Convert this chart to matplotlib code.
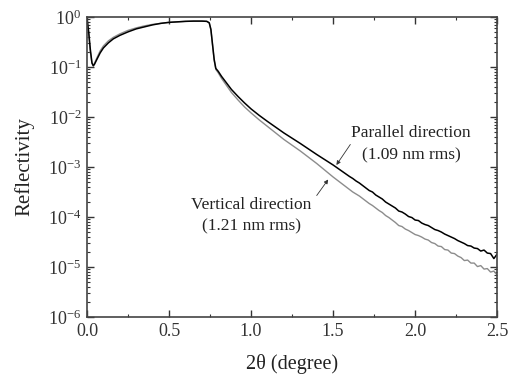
import numpy as np
import matplotlib
matplotlib.use("Agg")
import matplotlib.pyplot as plt
from matplotlib.ticker import LogLocator, MultipleLocator, NullFormatter

# 2theta (degree) and log10(reflectivity)
theta_par = [0.000, 0.010, 0.020, 0.030, 0.038, 0.045, 0.06, 0.08, 0.10, 0.13, 0.16, 0.20,
             0.25, 0.30, 0.35, 0.40, 0.45, 0.50, 0.55, 0.60, 0.65, 0.70, 0.73, 0.745, 0.755,
             0.765, 0.775, 0.785, 0.80, 0.82, 0.85, 0.88, 0.92, 0.96, 1.00, 1.05, 1.10, 1.20,
             1.30, 1.40, 1.50, 1.60,
             1.62, 1.64, 1.66, 1.68, 1.70, 1.72, 1.74, 1.76, 1.78, 1.80, 1.82, 1.84, 1.86,
             1.88, 1.90, 1.92, 1.94, 1.96, 1.98, 2.00, 2.02, 2.04, 2.06, 2.08, 2.10, 2.12,
             2.14, 2.16, 2.18, 2.20, 2.22, 2.24, 2.26, 2.28, 2.30, 2.32, 2.34, 2.36, 2.38,
             2.40, 2.42, 2.44, 2.46, 2.48, 2.50]
logR_par = [-0.04, -0.30, -0.65, -0.92, -0.98, -0.95, -0.85, -0.72, -0.62, -0.52, -0.44, -0.37,
            -0.30, -0.24, -0.20, -0.16, -0.13, -0.11, -0.10, -0.09, -0.085, -0.085, -0.09, -0.12,
            -0.25, -0.55, -0.85, -1.03, -1.09, -1.19, -1.32, -1.45, -1.59, -1.72, -1.84, -1.97,
            -2.09, -2.32, -2.53, -2.75, -2.96, -3.19,
            -3.23, -3.28, -3.32, -3.37, -3.42, -3.47, -3.50, -3.56, -3.60, -3.64, -3.70, -3.74,
            -3.78, -3.82, -3.88, -3.90, -3.94, -3.99, -4.01, -4.06, -4.07, -4.12, -4.15, -4.17,
            -4.21, -4.25, -4.27, -4.30, -4.34, -4.37, -4.40, -4.43, -4.47, -4.50, -4.53, -4.57,
            -4.58, -4.62, -4.63, -4.68, -4.66, -4.72, -4.73, -4.83, -4.74]

theta_ver = [0.000, 0.010, 0.020, 0.030, 0.038, 0.045, 0.06, 0.08, 0.10, 0.13, 0.16, 0.20,
             0.25, 0.30, 0.35, 0.40, 0.45, 0.50, 0.55, 0.60, 0.65, 0.70, 0.73, 0.745, 0.755,
             0.765, 0.775, 0.785, 0.80, 0.82, 0.85, 0.88, 0.92, 0.96, 1.00, 1.05, 1.10, 1.20,
             1.30, 1.40, 1.50, 1.60,
             1.62, 1.64, 1.66, 1.68, 1.70, 1.72, 1.74, 1.76, 1.78, 1.80, 1.82, 1.84, 1.86,
             1.88, 1.90, 1.92, 1.94, 1.96, 1.98, 2.00, 2.02, 2.04, 2.06, 2.08, 2.10, 2.12,
             2.14, 2.16, 2.18, 2.20, 2.22, 2.24, 2.26, 2.28, 2.30, 2.32, 2.34, 2.36, 2.38,
             2.40, 2.42, 2.44, 2.46, 2.48, 2.50]
logR_ver = [-0.06, -0.35, -0.70, -0.93, -0.97, -0.93, -0.82, -0.68, -0.58, -0.48, -0.41, -0.34,
            -0.27, -0.22, -0.18, -0.15, -0.13, -0.11, -0.10, -0.09, -0.085, -0.085, -0.09, -0.12,
            -0.26, -0.57, -0.87, -1.05, -1.12, -1.23, -1.37, -1.51, -1.66, -1.80, -1.92, -2.06,
            -2.19, -2.45, -2.68, -2.93, -3.20, -3.45,
            -3.50, -3.54, -3.58, -3.63, -3.68, -3.73, -3.77, -3.82, -3.87, -3.91, -3.97, -4.01,
            -4.06, -4.11, -4.17, -4.19, -4.24, -4.27, -4.31, -4.35, -4.37, -4.40, -4.44, -4.46,
            -4.51, -4.53, -4.58, -4.59, -4.65, -4.66, -4.72, -4.73, -4.78, -4.81, -4.87, -4.86,
            -4.92, -4.92, -4.99, -4.97, -5.04, -5.03, -5.10, -5.08, -5.16]

plt.rcParams['font.family'] = ['Liberation Serif', 'DejaVu Serif']
plt.rcParams['mathtext.fontset'] = 'stix'

fig = plt.figure(figsize=(5.12, 3.83), dpi=100)
ax = fig.add_axes([0.170, 0.172, 0.801, 0.784])

ax.plot(theta_ver, 10 ** np.array(logR_ver), color='#8c8c8c', lw=1.0)
ax.plot(theta_par, 10 ** np.array(logR_par), color='black', lw=1.1)

ax.set_yscale('log')
ax.set_xlim(0, 2.5)
ax.set_ylim(1e-6, 1)
ax.xaxis.set_major_locator(MultipleLocator(0.5))
ax.xaxis.set_minor_locator(MultipleLocator(0.25))
ax.xaxis.set_major_formatter(plt.FuncFormatter(lambda v, p: f"{v:.1f}"))
ax.yaxis.set_major_locator(LogLocator(base=10, numticks=10))
ax.yaxis.set_minor_locator(LogLocator(base=10, subs=np.arange(2, 10), numticks=20))
ax.yaxis.set_minor_formatter(NullFormatter())
ax.tick_params(which='both', direction='in', top=True, right=True, labelsize=13, colors='#333333')
ax.tick_params(which='major', length=5, width=1.0, pad=4)
ax.tick_params(which='minor', length=2.5, width=0.8)
for s in ax.spines.values():
    s.set_linewidth(1.2)
    s.set_color('#444444')

ax.set_xlabel('2θ (degree)', fontsize=14.5, labelpad=10, color='#222222')
ax.set_ylabel('Reflectivity', fontsize=15, labelpad=10, color='#222222')

ax.text(1.976, 10 ** -2.32, 'Parallel direction', ha='center', va='center', fontsize=12.5, color='#222222')
ax.text(1.976, 10 ** -2.76, '(1.09 nm rms)', ha='center', va='center', fontsize=12.5, color='#222222')
ax.text(1.0, 10 ** -3.76, 'Vertical direction', ha='center', va='center', fontsize=12.5, color='#222222')
ax.text(1.0, 10 ** -4.18, '(1.21 nm rms)', ha='center', va='center', fontsize=12.5, color='#222222')

arrow = dict(arrowstyle='-|>', color='#333333', lw=0.6, mutation_scale=6, shrinkA=0, shrinkB=0)
ax.annotate('', xy=(1.52, 10 ** -2.96), xytext=(1.605, 10 ** -2.55), arrowprops=arrow)
ax.annotate('', xy=(1.47, 10 ** -3.25), xytext=(1.40, 10 ** -3.57), arrowprops=arrow)

fig.savefig('out.png', dpi=100)
